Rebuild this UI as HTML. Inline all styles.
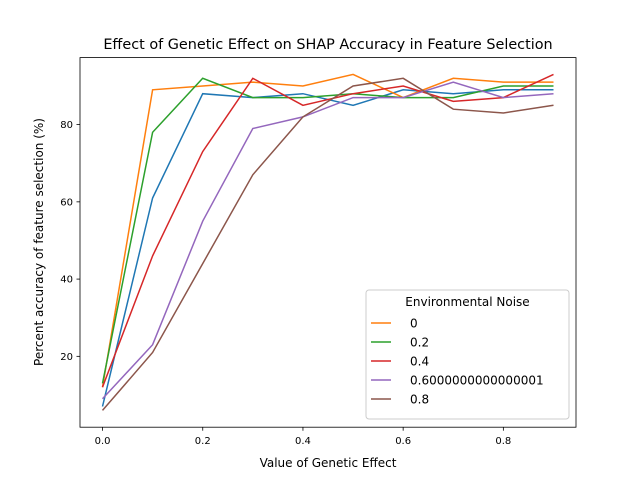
<!DOCTYPE html>
<html><head><meta charset="utf-8"><style>
body{margin:0;background:#fff}
svg{font-family:"DejaVu Sans","Liberation Sans",sans-serif}
</style></head><body>
<svg id="chart" width="640" height="480" xmlns="http://www.w3.org/2000/svg">
<rect width="640" height="480" fill="#fff"/>
<text x="328" y="49" text-anchor="middle" font-size="14.4">Effect of Genetic Effect on SHAP Accuracy in Feature Selection</text>
<g id="plot"></g>
<text x="328" y="467" text-anchor="middle" font-size="12">Value of Genetic Effect</text>
<text transform="translate(43,242) rotate(-90)" text-anchor="middle" font-size="12">Percent accuracy of feature selection (%)</text>
</svg>
<script>
const xValues=[0,0.1,0.2,0.3,0.4,0.5,0.6,0.7,0.8,0.9];
const seriesBlue=[7,61,88,87,88,85,89,88,89,89];
const series0=[12,89,90,91,90,93,87,92,91,91];
const series02=[13,78,92,87,87,88,87,87,90,90];
const series04=[12,46,73,92,85,88,90,86,87,93];
const series06=[9,23,55,79,82,87,87,91,87,88];
const series08=[6,21,44,67,82,90,92,84,83,85];
const legendLabels=["0","0.2","0.4","0.6000000000000001","0.8"];
const xTicks=[0,0.2,0.4,0.6,0.8];
const yTicks=[20,40,60,80];
const L=80,R=576,T=57.6,B=427.2;
const x0=-0.045,x1=0.945,y0=1.65,y1=97.35;
const sx=v=>L+(v-x0)/(x1-x0)*(R-L);
const sy=v=>B-(v-y0)/(y1-y0)*(B-T);
const NS="http://www.w3.org/2000/svg";
const g=document.getElementById('plot');
function mk(t,a,p){const e=document.createElementNS(NS,t);for(const k in a)e.setAttribute(k,a[k]);(p||g).appendChild(e);return e;}
const series=[[seriesBlue,'#1f77b4','series-blue'],[series0,'#ff7f0e','series-0'],[series02,'#2ca02c','series-0-2'],[series04,'#d62728','series-0-4'],[series06,'#9467bd','series-0-6'],[series08,'#8c564b','series-0-8']];
series.forEach(s=>{
 const d=s[0].map((v,i)=>(i?'L':'M')+sx(xValues[i]).toFixed(1)+','+sy(v).toFixed(1)).join('');
 const p=mk('path',{d:d,fill:'none',stroke:s[1],'stroke-width':1.5});
 
 
});
const frame=mk('rect',{x:L,y:T,width:R-L,height:B-T,fill:'none',stroke:'#000','stroke-width':0.8});


xTicks.forEach(v=>{
 mk('line',{x1:sx(v),x2:sx(v),y1:B,y2:B+3.5,stroke:'#000','stroke-width':0.8});
 const t=mk('text',{x:sx(v),y:B+17,'text-anchor':'middle','font-size':10});
 t.textContent=v.toFixed(1);
 
 
});
yTicks.forEach(v=>{
 mk('line',{x1:L-3.5,x2:L,y1:sy(v),y2:sy(v),stroke:'#000','stroke-width':0.8});
 const t=mk('text',{x:L-7,y:sy(v)+3.5,'text-anchor':'end','font-size':10});
 t.textContent=v;
 
 
});
const lg=mk('g',{});


mk('rect',{x:366,y:290,width:203,height:129,rx:3,fill:'#fff','fill-opacity':0.8,stroke:'#ccc'},lg);
const lt=mk('text',{x:467.5,y:306,'text-anchor':'middle','font-size':12},lg);
lt.textContent='Environmental Noise';
legendLabels.forEach((lab,i)=>{
 const y=323+i*19;
 const e=mk('g',{},lg);
 
 
 mk('line',{x1:371,x2:391,y1:y,y2:y,stroke:series[i+1][1],'stroke-width':1.5},e);
 const t=mk('text',{x:410,y:y+4.5,'font-size':12},e);
 t.textContent=lab;
});
</script>
</body></html>
